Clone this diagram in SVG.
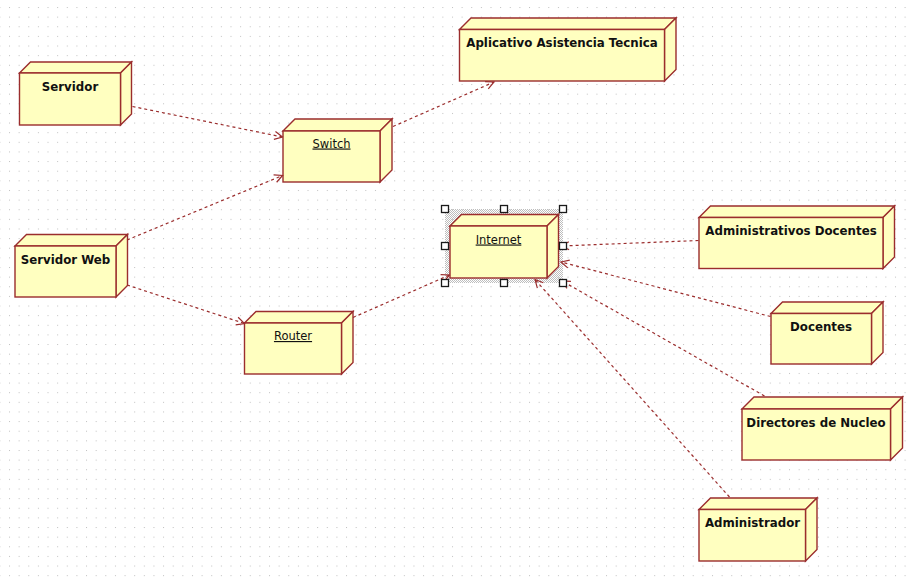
<svg xmlns="http://www.w3.org/2000/svg" width="911" height="580" viewBox="0 0 911 580">
  <style>
    .face { fill: #ffffc0; stroke: #9b2d2d; stroke-width: 1.4; stroke-linejoin: miter; }
    .title { font-family: "DejaVu Sans", Verdana, sans-serif; font-size: 11.8px; font-weight: bold; fill: #111; text-anchor: middle; }
    .inst { font-family: "DejaVu Sans", Verdana, sans-serif; font-size: 11.5px; fill: #111; text-anchor: middle; text-decoration: underline; }
    .dep { fill: none; stroke: #9b2d2d; stroke-width: 1.2; stroke-dasharray: 3 3; marker-end: url(#open); }
    .handle { fill: #ffffff; stroke: #1a1a1a; stroke-width: 1.3; }
  </style>
  <defs>
    <pattern id="grid" patternUnits="userSpaceOnUse" x="9" y="7" width="9.63" height="9.63">
      <rect x="0" y="0" width="1" height="1" fill="#c0c0c0"/>
    </pattern>
    <pattern id="hatch" patternUnits="userSpaceOnUse" width="2" height="2">
      <rect x="0" y="0" width="1" height="1" fill="#bdbdbd"/>
      <rect x="1" y="1" width="1" height="1" fill="#bdbdbd"/>
    </pattern>
    <marker id="open" markerUnits="userSpaceOnUse" viewBox="0 0 10 10" refX="9" refY="5" markerWidth="10" markerHeight="10" orient="auto">
      <path d="M1,1 L9,5 L1,9" fill="none" stroke="#9b2d2d" stroke-width="1.2"/>
    </marker>
  </defs>

  <!-- canvas -->
  <rect x="0" y="0" width="911" height="580" fill="#ffffff"/>
  <rect x="0" y="0" width="911" height="580" fill="url(#grid)"/>

  <!-- selection frame of Internet -->
  <rect x="445" y="209" width="118" height="74" fill="url(#hatch)"/>

  <!-- nodes: top face, side face, front face -->
  <g id="servidor">
    <polygon class="face" points="19.5,73 30.5,62 131.5,62 120.5,73"/>
    <polygon class="face" points="120.5,73 131.5,62 131.5,114 120.5,125"/>
    <rect class="face" x="19.5" y="73" width="101" height="52"/>
    <text class="title" x="70" y="90.5">Servidor</text>
  </g>

  <g id="switch">
    <polygon class="face" points="283,131 295,119 392,119 380,131"/>
    <polygon class="face" points="380,131 392,119 392,170 380,182"/>
    <rect class="face" x="283" y="131" width="97" height="51"/>
    <text class="inst" x="331.5" y="147.5">Switch</text>
  </g>

  <g id="aplicativo">
    <polygon class="face" points="459.5,29.5 471,18 676,18 664.5,29.5"/>
    <polygon class="face" points="664.5,29.5 676,18 676,69.5 664.5,81"/>
    <rect class="face" x="459.5" y="29.5" width="205" height="51.5"/>
    <text class="title" x="562" y="47">Aplicativo Asistencia Tecnica</text>
  </g>

  <g id="servidor-web">
    <polygon class="face" points="15,246 26.5,234.5 127.5,234.5 116,246"/>
    <polygon class="face" points="116,246 127.5,234.5 127.5,285.5 116,297"/>
    <rect class="face" x="15" y="246" width="101" height="51"/>
    <text class="title" x="65.5" y="263.5">Servidor Web</text>
  </g>

  <g id="router">
    <polygon class="face" points="244.5,323 256,311.5 353,311.5 341.5,323"/>
    <polygon class="face" points="341.5,323 353,311.5 353,362.5 341.5,374"/>
    <rect class="face" x="244.5" y="323" width="97" height="51"/>
    <text class="inst" x="293" y="340">Router</text>
  </g>

  <g id="internet">
    <polygon class="face" points="450,226 461.5,214.5 558.5,214.5 547,226"/>
    <polygon class="face" points="547,226 558.5,214.5 558.5,266.5 547,278"/>
    <rect class="face" x="450" y="226" width="97" height="52"/>
    <text class="inst" x="498.5" y="243.5">Internet</text>
  </g>

  <g id="administrativos-docentes">
    <polygon class="face" points="699,217.5 710.5,206 894.5,206 883,217.5"/>
    <polygon class="face" points="883,217.5 894.5,206 894.5,257 883,268.5"/>
    <rect class="face" x="699" y="217.5" width="184" height="51"/>
    <text class="title" x="791" y="234.5">Administrativos Docentes</text>
  </g>

  <g id="docentes">
    <polygon class="face" points="771,313.5 782.5,302 883,302 871.5,313.5"/>
    <polygon class="face" points="871.5,313.5 883,302 883,352.5 871.5,364"/>
    <rect class="face" x="771" y="313.5" width="100.5" height="50.5"/>
    <text class="title" x="821" y="330.5">Docentes</text>
  </g>

  <g id="directores-de-nucleo">
    <polygon class="face" points="742,409 754,397 902.5,397 890.5,409"/>
    <polygon class="face" points="890.5,409 902.5,397 902.5,448 890.5,460"/>
    <rect class="face" x="742" y="409" width="148.5" height="51"/>
    <text class="title" x="816" y="426.5">Directores de Nucleo</text>
  </g>

  <g id="administrador">
    <polygon class="face" points="699,509.5 710.5,498 817,498 805.5,509.5"/>
    <polygon class="face" points="805.5,509.5 817,498 817,549.5 805.5,561"/>
    <rect class="face" x="699" y="509.5" width="106.5" height="51.5"/>
    <text class="title" x="752.5" y="527">Administrador</text>
  </g>

  <!-- dependencies -->
  <g id="connectors">
    <path class="dep" d="M132.5,106.5 L282.5,137"/>
    <path class="dep" d="M127,240 L282.5,175.5"/>
    <path class="dep" d="M393,126.5 L494,82"/>
    <path class="dep" d="M127,285 L244.5,323.5"/>
    <path class="dep" d="M353,317.5 L449.5,275"/>
    <path class="dep" d="M698.5,240.5 L561,246"/>
    <path class="dep" d="M770.5,316.5 L561,262"/>
    <path class="dep" d="M764.5,396 L562,281"/>
    <path class="dep" d="M729.5,497 L535,279.5"/>
  </g>

  <!-- selection handles -->
  <g id="handles">
    <rect class="handle" x="441.5" y="205.5" width="7" height="7"/>
    <rect class="handle" x="500.5" y="205.5" width="7" height="7"/>
    <rect class="handle" x="559.5" y="205.5" width="7" height="7"/>
    <rect class="handle" x="441.5" y="242.5" width="7" height="7"/>
    <rect class="handle" x="559.5" y="242.5" width="7" height="7"/>
    <rect class="handle" x="441.5" y="279.5" width="7" height="7"/>
    <rect class="handle" x="500.5" y="279.5" width="7" height="7"/>
    <rect class="handle" x="559.5" y="279.5" width="7" height="7"/>
  </g>
</svg>
